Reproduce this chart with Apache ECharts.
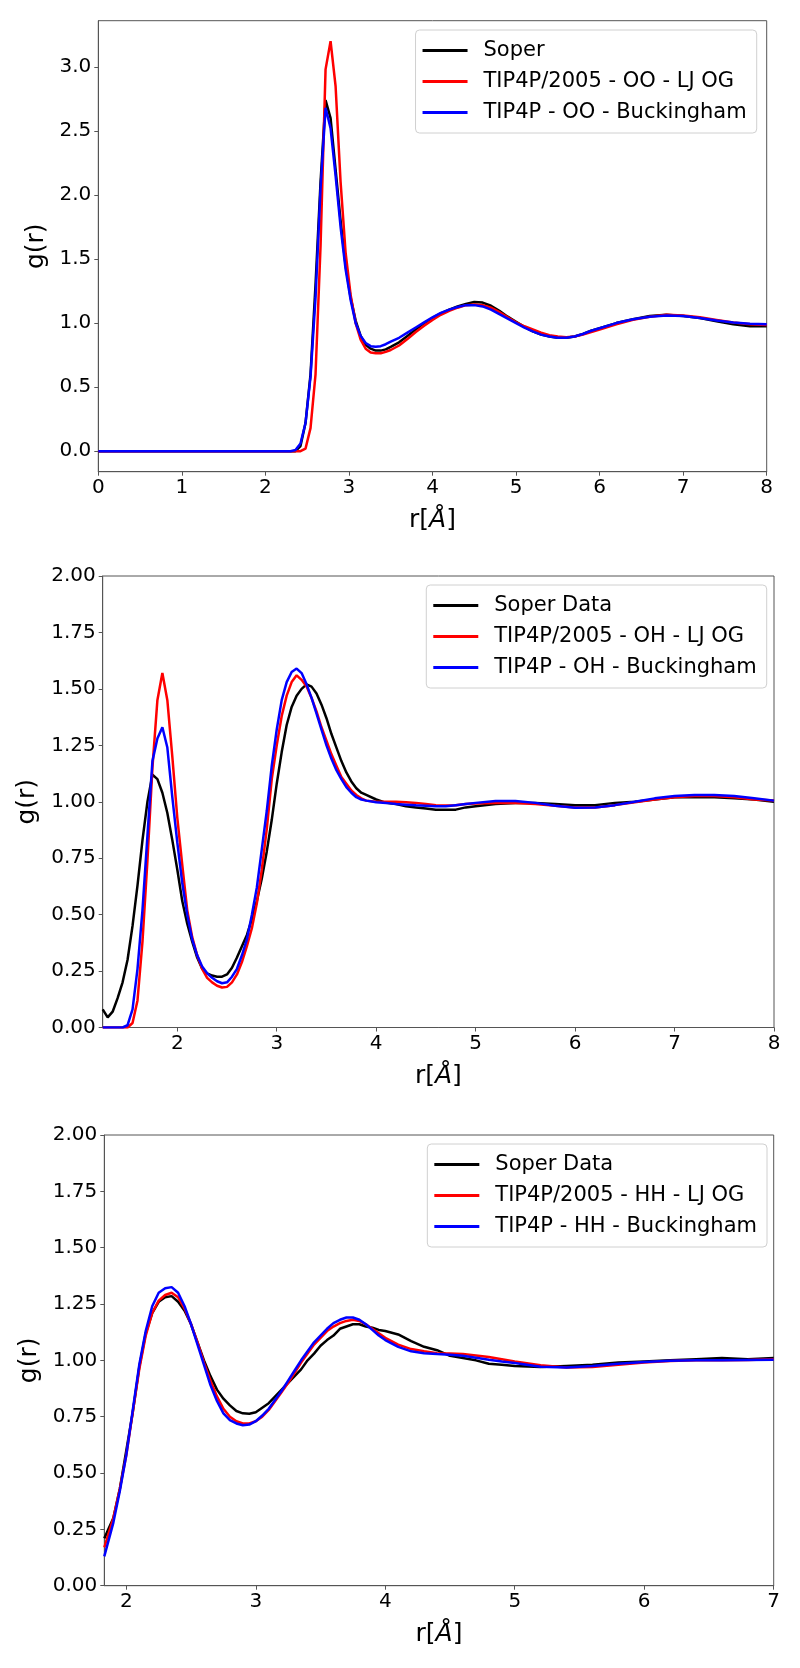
<!DOCTYPE html>
<html>
<head>
<meta charset="utf-8">
<script src="https://cdn.jsdelivr.net/npm/echarts@6/dist/echarts.min.js"></script>
<style>
html,body{margin:0;padding:0;background:#fff;}
#chart{width:800px;height:1668px;}
</style>
</head>
<body>
<div id="chart"></div>
<script>
// ---------- O-O ----------
const ooR = [0, 2.3, 2.36, 2.42, 2.48, 2.54, 2.6, 2.66, 2.72, 2.78, 2.84, 2.9, 2.96, 3.02, 3.08, 3.14, 3.2, 3.26, 3.32, 3.38, 3.44, 3.5,
  3.6, 3.7, 3.8, 3.9, 4.0, 4.1, 4.2, 4.3, 4.4, 4.5, 4.6, 4.7, 4.8, 4.9, 5.0, 5.1, 5.2, 5.3, 5.4, 5.5, 5.6, 5.7, 5.8, 5.9, 6.0,
  6.2, 6.4, 6.6, 6.8, 7.0, 7.2, 7.4, 7.6, 7.8, 8.0];
const ooSoper = [0, 0, 0.0, 0.04, 0.22, 0.6, 1.3, 2.1, 2.74, 2.6, 2.2, 1.8, 1.45, 1.2, 1.02, 0.9, 0.83, 0.8, 0.785, 0.785, 0.795, 0.815,
  0.85, 0.9, 0.95, 1.0, 1.04, 1.075, 1.105, 1.13, 1.15, 1.165, 1.16, 1.135, 1.095, 1.05, 1.01, 0.97, 0.935, 0.91, 0.895, 0.885, 0.885, 0.895, 0.915, 0.94, 0.96,
  1.0, 1.03, 1.055, 1.065, 1.055, 1.04, 1.015, 0.99, 0.975, 0.975];
const ooTip2005 = [0, 0, 0, 0, 0.02, 0.18, 0.6, 1.6, 2.98, 3.2, 2.85, 2.1, 1.55, 1.22, 1.0, 0.87, 0.8, 0.77, 0.765, 0.765, 0.775, 0.79,
  0.825, 0.875, 0.93, 0.98, 1.025, 1.065, 1.095, 1.12, 1.14, 1.145, 1.14, 1.12, 1.085, 1.045, 1.005, 0.975, 0.95, 0.925, 0.905, 0.895, 0.89, 0.895, 0.91, 0.93, 0.95,
  0.99, 1.025, 1.05, 1.065, 1.06, 1.045, 1.025, 1.005, 0.99, 0.985];
const ooBuck = [0, 0, 0.01, 0.06, 0.22, 0.58, 1.2, 2.05, 2.68, 2.52, 2.15, 1.75, 1.42, 1.18, 1.0, 0.9, 0.845, 0.82, 0.815, 0.82, 0.835, 0.855,
  0.885, 0.925, 0.965, 1.005, 1.045, 1.08, 1.105, 1.125, 1.14, 1.14, 1.13, 1.105, 1.07, 1.035, 1.0, 0.965, 0.935, 0.91, 0.895, 0.885, 0.885, 0.895, 0.915, 0.94, 0.96,
  1.0, 1.03, 1.05, 1.06, 1.055, 1.04, 1.02, 1.005, 0.995, 0.99];
const ooNames = ['Soper', 'TIP4P/2005 - OO - LJ OG', 'TIP4P - OO - Buckingham'];
const ooXTicks = [0, 1, 2, 3, 4, 5, 6, 7, 8];
const ooYTicks = [0, 0.5, 1.0, 1.5, 2.0, 2.5, 3.0];

// ---------- O-H ----------
const ohR = [1.25, 1.3, 1.35, 1.4, 1.45, 1.5, 1.55, 1.6, 1.65, 1.7, 1.75, 1.8, 1.85, 1.9, 1.95, 2.0, 2.05, 2.1, 2.15, 2.2, 2.25, 2.3, 2.35, 2.4, 2.45,
  2.5, 2.55, 2.6, 2.65, 2.7, 2.75, 2.8, 2.85, 2.9, 2.95, 3.0, 3.05, 3.1, 3.15, 3.2, 3.25, 3.3, 3.35, 3.4, 3.45, 3.5, 3.55, 3.6, 3.65, 3.7, 3.75, 3.8, 3.85, 3.9,
  4.0, 4.1, 4.2, 4.3, 4.4, 4.5, 4.6, 4.7, 4.8, 4.9, 5.0, 5.2, 5.4, 5.6, 5.8, 6.0, 6.2, 6.4, 6.6, 6.8, 7.0, 7.2, 7.4, 7.6, 7.8, 8.0];
const ohSoper = [0.08, 0.045, 0.07, 0.13, 0.2, 0.3, 0.45, 0.63, 0.83, 1.0, 1.12, 1.1, 1.04, 0.95, 0.83, 0.7, 0.56, 0.46, 0.38, 0.31, 0.26, 0.24, 0.23, 0.225, 0.225,
  0.235, 0.265, 0.31, 0.36, 0.41, 0.48, 0.56, 0.66, 0.78, 0.92, 1.08, 1.22, 1.34, 1.42, 1.47, 1.5, 1.52, 1.51, 1.48, 1.43, 1.37, 1.3, 1.24, 1.18, 1.13, 1.09, 1.06, 1.04, 1.03,
  1.01, 0.995, 0.99, 0.98, 0.975, 0.97, 0.965, 0.965, 0.965, 0.975, 0.98, 0.99, 0.995, 0.995, 0.99, 0.985, 0.985, 0.995, 1.0, 1.01, 1.02, 1.02, 1.02, 1.015, 1.01, 1.0];
const ohTip2005 = [0, 0, 0, 0, 0, 0, 0.02, 0.12, 0.38, 0.74, 1.15, 1.45, 1.57, 1.45, 1.2, 0.93, 0.72, 0.52, 0.4, 0.32, 0.26, 0.22, 0.2, 0.185, 0.177,
  0.18, 0.2, 0.235, 0.29, 0.36, 0.44, 0.55, 0.7, 0.88, 1.1, 1.25, 1.38, 1.47, 1.53, 1.56, 1.54, 1.51, 1.46, 1.4, 1.33, 1.27, 1.21, 1.16, 1.11, 1.08, 1.05, 1.03, 1.015, 1.005,
  1.0, 1.0, 1.0, 0.998, 0.995, 0.99, 0.985, 0.983, 0.985, 0.99, 0.992, 0.995, 0.995, 0.99, 0.982, 0.975, 0.975, 0.985, 0.998, 1.01, 1.02, 1.025, 1.025, 1.02, 1.01, 1.005];
const ohBuck = [0, 0, 0, 0, 0, 0.01, 0.08, 0.26, 0.52, 0.85, 1.18, 1.28, 1.33, 1.24, 1.02, 0.82, 0.64, 0.5, 0.39, 0.32, 0.27, 0.24, 0.22, 0.205, 0.196,
  0.2, 0.225, 0.26, 0.32, 0.39, 0.5, 0.62, 0.79, 0.96, 1.16, 1.32, 1.45, 1.53, 1.575, 1.59, 1.57, 1.52, 1.46, 1.39, 1.32, 1.25, 1.19, 1.14, 1.1, 1.065, 1.04, 1.02, 1.01, 1.005,
  0.998, 0.995, 0.99, 0.987, 0.984, 0.982, 0.98, 0.98, 0.985, 0.99, 0.995, 1.003, 1.003, 0.995, 0.982, 0.973, 0.975, 0.985, 1.0, 1.015, 1.025, 1.03, 1.03, 1.025, 1.015, 1.005];
const ohNames = ['Soper Data', 'TIP4P/2005 - OH - LJ OG', 'TIP4P - OH - Buckingham'];
const ohXTicks = [2, 3, 4, 5, 6, 7, 8];

// ---------- H-H ----------
const hhR = [1.83, 1.9, 1.95, 2.0, 2.05, 2.1, 2.15, 2.2, 2.25, 2.3, 2.35, 2.4, 2.45, 2.5, 2.55, 2.6, 2.65, 2.7, 2.75, 2.8, 2.85, 2.9, 2.95,
  3.0, 3.05, 3.1, 3.15, 3.2, 3.25, 3.3, 3.35, 3.4, 3.45, 3.5, 3.55, 3.6, 3.65, 3.7, 3.75, 3.8, 3.85, 3.9, 3.95, 4.0,
  4.1, 4.2, 4.3, 4.4, 4.5, 4.6, 4.7, 4.8, 4.9, 5.0, 5.2, 5.4, 5.6, 5.8, 6.0, 6.2, 6.4, 6.6, 6.8, 7.0];
const hhSoper = [0.21, 0.3, 0.43, 0.6, 0.77, 0.97, 1.12, 1.21, 1.26, 1.28, 1.285, 1.26, 1.22, 1.16, 1.08, 1.0, 0.93, 0.87, 0.83, 0.8, 0.775, 0.765, 0.763,
  0.77, 0.79, 0.81, 0.84, 0.87, 0.9, 0.93, 0.96, 1.0, 1.03, 1.065, 1.09, 1.11, 1.14, 1.15, 1.16, 1.16, 1.15, 1.145, 1.135, 1.13,
  1.115, 1.085, 1.06, 1.045, 1.02, 1.01, 1.0, 0.985, 0.98, 0.975, 0.97, 0.975, 0.98, 0.99, 0.995, 1.0, 1.005, 1.01, 1.005, 1.01];
const hhTip2005 = [0.17, 0.3, 0.43, 0.58, 0.77, 0.96, 1.11, 1.21, 1.265, 1.29, 1.3, 1.28, 1.23, 1.16, 1.08, 0.99, 0.91, 0.84, 0.785, 0.75, 0.73, 0.72, 0.72,
  0.73, 0.75, 0.78, 0.82, 0.86, 0.9, 0.945, 0.99, 1.03, 1.07, 1.1, 1.13, 1.15, 1.165, 1.175, 1.18, 1.175, 1.16, 1.14, 1.12, 1.1,
  1.07, 1.05, 1.04, 1.032, 1.03, 1.028, 1.022, 1.015, 1.005, 0.995, 0.978, 0.968, 0.97, 0.98, 0.99, 0.997, 1.0, 1.0, 1.002, 1.005];
const hhBuck = [0.13, 0.28, 0.42, 0.58, 0.78, 0.98, 1.13, 1.24, 1.3, 1.32, 1.325, 1.3, 1.24, 1.16, 1.07, 0.98, 0.89, 0.82, 0.765, 0.735, 0.72, 0.712, 0.715,
  0.73, 0.755, 0.785, 0.825, 0.865, 0.91, 0.955, 1.0, 1.04, 1.08, 1.11, 1.14, 1.165, 1.18, 1.19, 1.19, 1.18, 1.16, 1.135, 1.11, 1.09,
  1.06, 1.04, 1.032, 1.028, 1.025, 1.02, 1.012, 1.003, 0.995, 0.988, 0.972, 0.968, 0.975, 0.985, 0.993, 0.998, 1.0, 1.0, 1.002, 1.003];
const hhNames = ['Soper Data', 'TIP4P/2005 - HH - LJ OG', 'TIP4P - HH - Buckingham'];
const hhXTicks = [2, 3, 4, 5, 6, 7];

const gYTicks = [0, 0.25, 0.5, 0.75, 1.0, 1.25, 1.5, 1.75, 2.0];
const seriesColors = ['#000000', '#ff0000', '#0000ff'];

const FONT = 'DejaVu Sans';
const AXC = '#555';

function pairs(xs, ys) { return xs.map((x, i) => [x, ys[i]]); }

function makeGrid(left, top, right, bottom) {
  return { left: left, top: top, width: right - left, height: bottom - top,
    show: true, borderColor: AXC, borderWidth: 1, backgroundColor: 'transparent' };
}

function makeX(gi, min, max, ticks, gap) {
  return {
    type: 'value', gridIndex: gi, min: min, max: max,
    name: '{a|r[}{b|Å}{a|]}', nameLocation: 'middle', nameGap: gap,
    nameTextStyle: { rich: {
      a: { fontSize: 25, fontFamily: FONT, color: '#000' },
      b: { fontSize: 25, fontFamily: FONT, fontStyle: 'italic', color: '#000' } } },
    axisLine: { show: true, onZero: false, lineStyle: { color: AXC, width: 1 } },
    axisTick: { show: true, inside: false, length: 4, customValues: ticks, lineStyle: { color: AXC, width: 1 } },
    axisLabel: { customValues: ticks, fontSize: 20, fontFamily: FONT, color: '#000', margin: 6,
      formatter: v => String(Math.round(v)) , hideOverlap: false },
    splitLine: { show: false }
  };
}

function makeY(gi, min, max, ticks, dec, gap) {
  return {
    type: 'value', gridIndex: gi, min: min, max: max,
    name: 'g(r)', nameLocation: 'middle', nameGap: gap,
    nameTextStyle: { fontSize: 25, fontFamily: FONT, color: '#000' },
    axisLine: { show: true, onZero: false, lineStyle: { color: AXC, width: 1 } },
    axisTick: { show: true, inside: false, length: 4, customValues: ticks, lineStyle: { color: AXC, width: 1 } },
    axisLabel: { customValues: ticks, fontSize: 20, fontFamily: FONT, color: '#000', margin: 7,
      formatter: v => Number(v).toFixed(dec), hideOverlap: false },
    splitLine: { show: false }
  };
}

function makeLegend(names, right, top) {
  return {
    data: names.map(n => ({ name: n })),
    orient: 'vertical', right: right, top: top,
    icon: 'rect', itemWidth: 45, itemHeight: 3, itemGap: 6,
    padding: [8, 10, 8, 7],
    borderColor: '#d0d0d0', borderWidth: 1, borderRadius: 4,
    backgroundColor: 'rgba(255,255,255,0.8)',
    selectedMode: false,
    textStyle: { fontSize: 21, fontFamily: FONT, color: '#000', lineHeight: 25, padding: [0, 0, 0, 11] }
  };
}

function makeSeries(names, xs, ysList, gi) {
  return ysList.map((ys, k) => ({
    type: 'line', name: names[k], xAxisIndex: gi, yAxisIndex: gi,
    data: pairs(xs, ys), symbol: 'none', showSymbol: false,
    lineStyle: { color: seriesColors[k], width: 2.5 }, itemStyle: { color: seriesColors[k] },
    z: 2 + k, animation: false, clip: true
  }));
}

const chart = echarts.init(document.getElementById('chart'), null, { renderer: 'canvas' });
chart.setOption({
  backgroundColor: '#fff',
  animation: false,
  grid: [
    makeGrid(98.3, 20.7, 766.7, 471.7),
    makeGrid(102.7, 576, 774, 1027.5),
    makeGrid(104.3, 1135, 773.7, 1585.7)
  ],
  xAxis: [
    makeX(0, 0, 8, ooXTicks, 36),
    makeX(1, 1.25, 8, ohXTicks, 36),
    makeX(2, 1.83, 7, hhXTicks, 36)
  ],
  yAxis: [
    makeY(0, -0.16, 3.36, ooYTicks, 1, 41),
    makeY(1, 0, 2, gYTicks, 2, 51),
    makeY(2, 0, 2, gYTicks, 2, 53)
  ],
  legend: [
    makeLegend(ooNames, 43.3, 30),
    makeLegend(ohNames, 33.3, 585),
    makeLegend(hhNames, 33, 1144)
  ],
  series: [].concat(
    makeSeries(ooNames, ooR, [ooSoper, ooTip2005, ooBuck], 0),
    makeSeries(ohNames, ohR, [ohSoper, ohTip2005, ohBuck], 1),
    makeSeries(hhNames, hhR, [hhSoper, hhTip2005, hhBuck], 2)
  )
});
</script>
</body>
</html>
